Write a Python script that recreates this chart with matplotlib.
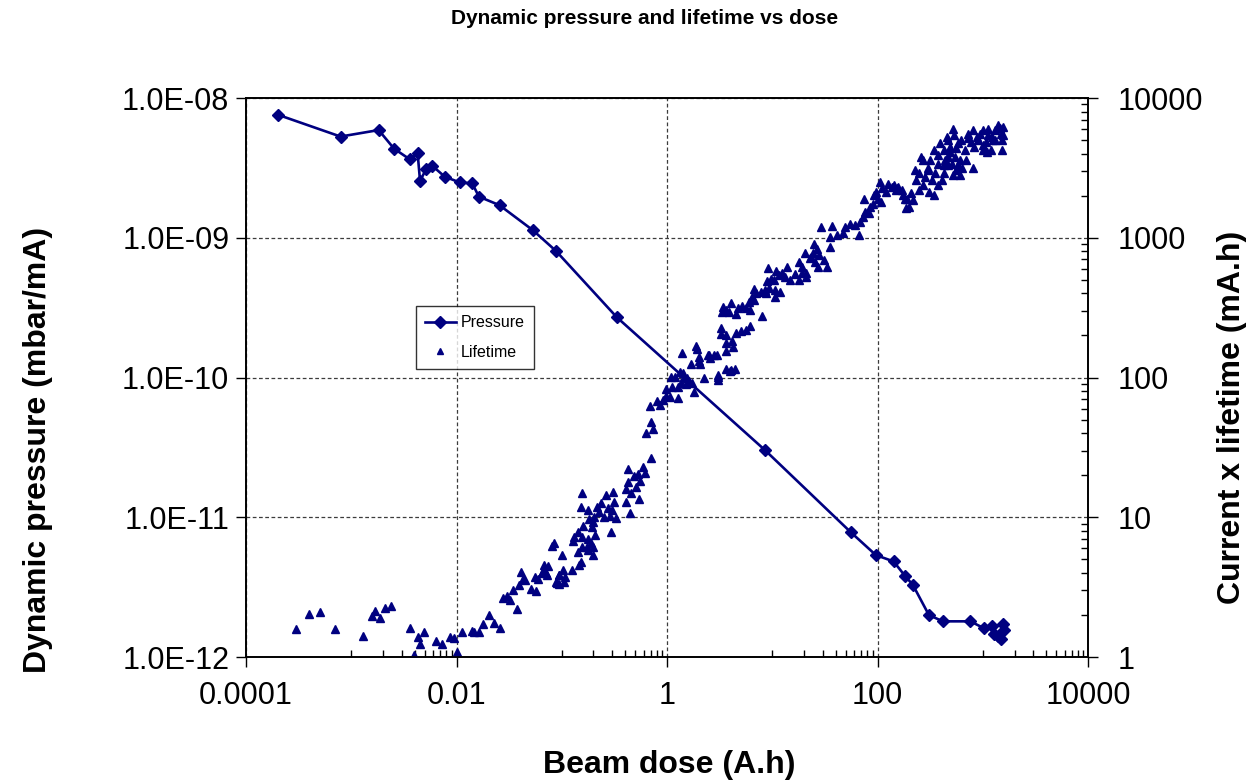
import numpy as np
import matplotlib
matplotlib.use("Agg")
import matplotlib.pyplot as plt
from matplotlib.ticker import FixedLocator, FuncFormatter, LogLocator, NullLocator, NullFormatter

plt.rcParams['font.family'] = ['Liberation Sans', 'DejaVu Sans']

# pressure series (dose in A.h, pressure in mbar/mA)
pressure_dose = [2.0e-4, 7.9e-4, 1.82e-3, 2.55e-3, 3.6e-3, 4.27e-3, 4.5e-3, 5.16e-3,
                 5.9e-3, 7.7e-3, 0.0107, 0.0141, 0.0163, 0.0256, 0.0533, 0.088,
                 0.333, 8.49, 55.8, 96.4, 142, 184, 216, 307, 416, 762,
                 1019, 1231, 1285, 1403, 1475, 1590, 1540]
pressure_val = [7.6e-9, 5.3e-9, 5.9e-9, 4.34e-9, 3.64e-9, 4.02e-9, 2.55e-9, 3.12e-9,
                3.27e-9, 2.74e-9, 2.49e-9, 2.45e-9, 1.97e-9, 1.71e-9, 1.13e-9, 8.05e-10,
                2.70e-10, 3.03e-11, 7.8e-12, 5.36e-12, 4.83e-12, 3.77e-12, 3.29e-12, 2.0e-12,
                1.80e-12, 1.80e-12, 1.61e-12, 1.66e-12, 1.45e-12, 1.42e-12, 1.34e-12,
                1.57e-12, 1.71e-12]

# lifetime series (dose in A.h, current x lifetime in mA.h)
lifetime_dose = [
    2.96e-4, 3.95e-4, 5.02e-4, 6.98e-4, 1.29e-3, 1.57e-3, 1.68e-3, 1.87e-3, 2.11e-3, 2.40e-3,
    3.64e-3, 3.97e-3, 4.27e-3, 4.53e-3, 4.87e-3, 6.32e-3, 7.21e-3, 8.71e-3, 9.37e-3, 0.0102,
    0.0112, 0.0141, 0.0148, 0.0162, 0.0177, 0.0202, 0.0228, 0.0259, 0.0277, 0.0303,
    0.0320, 0.0344, 0.0376, 0.0393, 0.0410, 0.0432, 0.0451, 0.0514, 0.0561, 0.0573,
    0.0598, 0.0649, 0.0678, 0.0713, 0.0745, 0.080, 0.0849, 0.0887, 0.0933,
    0.705, 0.593, 0.424, 0.618, 0.535, 0.480, 0.555, 0.427, 0.505, 0.411,
    0.456, 0.540, 0.406, 0.443, 0.157, 0.308, 0.262, 0.313, 0.237, 0.151,
    0.218, 0.272, 0.176, 0.227, 0.303, 0.203, 0.253, 0.286, 0.182, 0.327,
    0.196, 0.160, 0.192, 0.292, 0.141, 0.131, 0.157, 0.208, 0.127, 0.178,
    0.189, 0.154, 0.172, 0.200, 0.179, 0.144, 0.196, 0.0995, 0.152, 0.147,
    0.0658, 0.124, 0.103, 0.0718, 0.0946, 0.108, 0.0893, 0.106, 0.0946,
    0.632, 0.731, 0.705, 0.690, 0.809, 0.853, 0.916, 0.972, 1.06, 0.985,
    1.12, 1.26, 1.28, 1.35, 1.10, 1.19, 1.46, 1.32, 1.43, 1.56,
    1.62, 1.50, 1.74, 1.82, 2.26, 3.02, 3.06, 1.70, 2.02, 2.06,
    1.39, 1.87, 1.92, 2.43, 2.54, 2.81, 2.98, 3.60, 3.93, 4.38,
    3.60, 3.60, 3.25, 3.65, 4.16, 4.54, 4.22, 3.04, 4.02, 2.50, 2.01,
    3.27, 5.06, 5.57, 6.08, 3.34, 3.42, 3.60, 3.87, 4.02, 4.48,
    4.71, 5.11, 5.57, 6.08, 5.99, 6.68, 6.44, 8.00, 7.02, 7.73,
    6.68, 8.49, 9.40, 8.62, 10.6, 10.7, 11.8, 9.12, 8.93, 9.62,
    10.3, 10.9, 11.5, 12.4, 13.3, 13.8, 14.6, 16.6, 17.8, 19.2,
    20.9, 17.8, 19.2, 20.3, 23.2, 24.6, 25.7, 20.7, 23.0, 24.7,
    26.6, 27.6, 27.2, 30.8, 33.1, 29.3, 35.6, 36.9, 35.1, 41.1,
    46.6, 49.4, 55.1, 60.5, 66.1, 68.5, 72.1, 76.4, 82.2, 85.3,
    89.7, 73.6, 91.6, 96.4, 102, 108, 105, 110, 120, 125,
    137, 149, 158, 183, 185, 152, 170, 190, 209, 197,
    215, 228, 245, 259, 273, 283, 300, 316, 327, 352,
    373, 309, 340, 407, 432, 393, 423, 454, 464, 489,
    525, 537, 506, 545, 586, 608, 640, 678, 718, 773,
    813, 830, 873, 940, 1012, 1064, 1087, 1128, 1197, 1231,
    1306, 1403, 1489, 1563, 1507, 1507, 471, 561, 612, 441,
    698, 1012, 1259, 1563, 379, 245,
    340, 379, 492, 561, 625, 729, 813, 906, 1128, 1313,
    1466, 423, 525, 304, 234, 273, 176, 142, 586, 1012, 471]
lifetime_val = [
    1.58, 2.03, 2.11, 1.58, 1.42, 1.96, 2.14, 1.89, 2.23, 2.31,
    1.61, 1.04, 1.40, 1.23, 1.50, 1.30, 1.23, 1.40, 1.37, 1.09,
    1.50, 1.53, 1.50, 1.50, 1.73, 2.00, 1.76, 1.61, 2.66, 2.74,
    2.56, 3.01, 2.21, 3.29, 4.07, 3.61, 3.56, 3.06, 3.72, 2.96,
    3.61, 4.01, 4.53, 4.01, 4.50, 6.22, 6.50, 3.42, 3.86,
    26.7, 23.0, 22.1, 20.9, 20.3, 19.8, 18.2, 17.9, 16.5, 15.9,
    14.8, 13.6, 12.8, 10.7, 14.8, 15.2, 14.4, 12.9, 12.6, 11.9,
    11.9, 11.6, 11.3, 10.9, 11.3, 10.1, 10.1, 10.2, 9.71, 9.87,
    9.29, 8.69, 8.47, 7.88, 7.88, 7.25, 7.25, 7.46, 6.79, 6.95,
    6.50, 6.15, 6.09, 6.09, 5.83, 5.61, 5.37, 5.37, 4.81, 4.55,
    4.12, 4.19, 4.19, 3.86, 3.86, 3.75, 3.40, 3.46, 3.33,
    40.2, 43.0, 48.2, 62.4, 67.5, 63.8, 68.9, 73.6, 72.8, 82.2,
    84.9, 84.9, 71.2, 91.6, 101, 101, 101, 110, 108, 98.6,
    94.7, 89.7, 90.7, 78.6, 100, 101, 95.8, 124, 132, 124,
    149, 168, 159, 145, 137, 145, 144, 115, 112, 115,
    155, 177, 204, 202, 183, 209, 166, 104, 113, 145, 141,
    228, 215, 218, 234, 295, 320, 303, 295, 342, 284,
    312, 326, 312, 303, 348, 358, 378, 275, 400, 410,
    427, 422, 438, 400, 374, 422, 410, 603, 492, 503,
    497, 580, 540, 556, 525, 619, 497, 549, 497, 556,
    556, 673, 619, 772, 730, 772, 673, 525, 711, 910,
    838, 751, 619, 692, 619, 1197, 861, 1211, 1015, 1044,
    1074, 1197, 1265, 1231, 1044, 1300, 1412, 1531, 1493, 1663,
    1758, 1910, 2018, 2130, 1910, 1806, 2512, 2254, 2130, 2445,
    2312, 2188, 2312, 1910, 1622, 2254, 2188, 1910, 2075, 1663,
    1858, 3047, 2884, 3793, 3589, 2729, 3133, 3589, 2582, 2884,
    3398, 2130, 2018, 2582, 2884, 4730, 4235, 5272, 3793, 4467,
    6053, 5420, 3398, 3793, 4730, 3589, 3133, 4235, 5572, 4853,
    3133, 4467, 5272, 5572, 5888, 4853, 4113, 6053, 4235, 5272,
    5888, 6383, 5572, 6209, 4989, 4235, 3304, 3047, 2805, 3589,
    3589, 4592, 4989, 5420, 2378, 2188,
    4235, 3899, 4093, 4375, 4989, 5156, 5888, 4989, 5420, 4989,
    6081, 3304, 2805, 3047, 2582, 2378, 2018, 2378, 3304, 4235, 4989]

x_ticks = [1e-4, 1e-2, 1, 1e2, 1e4]
x_labels = ['0.0001', '0.01', '1', '100', '10000']
left_ticks = [1e-12, 1e-11, 1e-10, 1e-9, 1e-8]
right_ticks = [1, 10, 100, 1000, 10000]
right_labels = ['1', '10', '100', '1000', '10000']

navy = '#000080'

fig = plt.figure(figsize=(12.54, 7.83), dpi=100)
ax = fig.add_axes([0.1962, 0.1609, 0.6715, 0.7139])
ax2 = ax.twinx()

ax.set_xscale('log')
ax.set_yscale('log')
ax2.set_yscale('log')
ax.set_xlim(1e-4, 1e4)
ax.set_ylim(1e-12, 1e-8)
ax2.set_ylim(1, 1e4)

p_line, = ax.plot(pressure_dose, pressure_val, color=navy, lw=1.9,
                  marker='D', ms=6.5, label='Pressure')
l_pts, = ax2.plot(lifetime_dose, lifetime_val, ls='none', color=navy,
                  marker='^', ms=5.5, label='Lifetime')

# x axis ticks: majors every two decades, minors in the odd decades only
ax.xaxis.set_major_locator(FixedLocator(x_ticks))
ax.set_xticklabels(x_labels)
ax.xaxis.set_minor_locator(FixedLocator([m * 10.0 ** e for e in (-3, -1, 1, 3) for m in range(1, 10)]))
ax.xaxis.set_minor_formatter(NullFormatter())
ax.tick_params(axis='x', which='major', direction='out', length=7, width=1, labelsize=22, pad=10)
ax.tick_params(axis='x', which='minor', direction='in', length=5, width=1)

ax.yaxis.set_major_locator(FixedLocator(left_ticks))
ax.yaxis.set_major_formatter(FuncFormatter(lambda v, _: f"{v:.1E}"))
ax.yaxis.set_minor_locator(NullLocator())
ax.tick_params(axis='y', which='major', direction='out', length=7, width=1, labelsize=22, pad=5)

ax2.yaxis.set_major_locator(FixedLocator(right_ticks))
ax2.set_yticklabels(right_labels)
ax2.yaxis.set_minor_locator(LogLocator(base=10, subs=np.arange(2, 10), numticks=20))
ax2.yaxis.set_minor_formatter(NullFormatter())
ax2.tick_params(axis='y', which='major', direction='out', length=7, width=1, labelsize=22, pad=14)
ax2.tick_params(axis='y', which='minor', direction='in', length=5, width=1)

ax.grid(which='major', color='#3c3c3c', linestyle=(0, (3, 2)), linewidth=0.9)
for a in (ax, ax2):
    for s in a.spines.values():
        s.set_linewidth(1.2)
        s.set_color('black')

leg = ax2.legend(handles=[p_line, l_pts], loc='upper left', bbox_to_anchor=(0.192, 0.643),
                 fontsize=11.5, frameon=True, fancybox=False, edgecolor='black',
                 borderpad=0.6, handlelength=1.9, labelspacing=0.9, handletextpad=0.3)
leg.get_frame().set_linewidth(1.0)
for h in leg.legend_handles:
    h.set_markersize(5 if h.get_label() == 'Lifetime' else 6)

fig.text(0.514, 0.977, 'Dynamic pressure and lifetime vs dose', ha='center', va='center',
         fontsize=15, fontweight='bold')
fig.text(0.5335, 0.023, 'Beam dose (A.h)', ha='center', va='center',
         fontsize=23, fontweight='bold')
fig.text(0.0303, 0.4253, 'Dynamic pressure (mbar/mA)', ha='center', va='center',
         rotation=90, fontsize=23, fontweight='bold')
fig.text(0.9825, 0.4674, 'Current x lifetime (mA.h)', ha='center', va='center',
         rotation=90, fontsize=23, fontweight='bold')

fig.savefig('out.png', dpi=100)
